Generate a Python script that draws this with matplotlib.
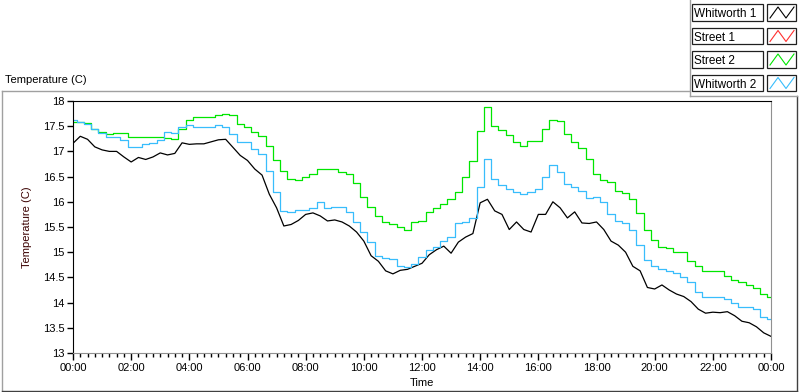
import matplotlib.pyplot as plt
import numpy as np
from matplotlib.patches import Rectangle

plt.rcParams['font.family'] = ['Liberation Sans', 'DejaVu Sans']

# readings every 15 minutes, 00:00 .. 24:00
whitworth1 = [17.16, 17.30, 17.24, 17.09, 17.03, 17.00, 17.00, 16.89, 16.79, 16.88, 16.84, 16.89, 16.97, 16.93, 16.96, 17.17,
              17.14, 17.15, 17.15, 17.19, 17.23, 17.24, 17.08, 16.92, 16.82, 16.65, 16.53, 16.15, 15.88, 15.52, 15.55, 15.63,
              15.75, 15.78, 15.72, 15.62, 15.64, 15.60, 15.52, 15.40, 15.22, 14.93, 14.82, 14.63, 14.57, 14.64, 14.66, 14.72,
              14.78, 14.95, 15.05, 15.12, 14.98, 15.20, 15.30, 15.37, 15.98, 16.05, 15.82, 15.75, 15.45, 15.60, 15.45, 15.40,
              15.75, 15.75, 16.00, 15.88, 15.68, 15.80, 15.58, 15.57, 15.60, 15.45, 15.22, 15.14, 15.00, 14.72, 14.63, 14.30,
              14.27, 14.35, 14.25, 14.17, 14.12, 14.02, 13.87, 13.79, 13.81, 13.80, 13.82, 13.74, 13.63, 13.60, 13.52, 13.40,
              13.33]
street1 = []
street2 = [17.58, 17.58, 17.56, 17.45, 17.38, 17.35, 17.37, 17.37, 17.28, 17.28, 17.28, 17.28, 17.28, 17.27, 17.25, 17.45,
           17.62, 17.68, 17.69, 17.69, 17.72, 17.74, 17.72, 17.54, 17.49, 17.39, 17.30, 17.10, 16.82, 16.62, 16.46, 16.43,
           16.50, 16.55, 16.66, 16.66, 16.66, 16.60, 16.56, 16.38, 16.10, 15.90, 15.72, 15.60, 15.55, 15.50, 15.45, 15.60,
           15.62, 15.80, 15.88, 15.95, 16.05, 16.20, 16.50, 16.80, 17.40, 17.88, 17.50, 17.42, 17.33, 17.18, 17.10, 17.20,
           17.20, 17.45, 17.62, 17.60, 17.35, 17.18, 17.06, 16.85, 16.55, 16.43, 16.40, 16.22, 16.18, 16.05, 15.78, 15.45,
           15.25, 15.10, 15.09, 15.00, 15.00, 14.82, 14.72, 14.63, 14.62, 14.62, 14.52, 14.45, 14.40, 14.35, 14.29, 14.18,
           14.11]
whitworth2 = [17.62, 17.58, 17.55, 17.45, 17.36, 17.28, 17.28, 17.22, 17.08, 17.08, 17.15, 17.17, 17.22, 17.38, 17.36, 17.48,
              17.52, 17.49, 17.49, 17.49, 17.52, 17.48, 17.35, 17.19, 17.18, 17.05, 16.95, 16.62, 16.20, 15.82, 15.80, 15.84,
              15.83, 15.87, 16.00, 15.88, 15.89, 15.89, 15.80, 15.60, 15.40, 15.20, 14.93, 14.88, 14.87, 14.72, 14.71, 14.77,
              14.90, 15.04, 15.10, 15.22, 15.30, 15.57, 15.60, 15.67, 16.30, 16.85, 16.45, 16.33, 16.25, 16.20, 16.15, 16.20,
              16.25, 16.50, 16.73, 16.60, 16.35, 16.30, 16.22, 16.07, 16.10, 16.00, 15.75, 15.62, 15.58, 15.45, 15.15, 14.85,
              14.72, 14.66, 14.63, 14.58, 14.50, 14.40, 14.22, 14.12, 14.11, 14.11, 14.08, 14.00, 13.92, 13.91, 13.88, 13.72,
              13.68]

names = ['Whitworth 1', 'Street 1', 'Street 2', 'Whitworth 2']
series = [whitworth1, street1, street2, whitworth2]
colors = ['#000000', '#ff3030', '#00e600', '#38bdfc']
steps = ['default', 'default', 'steps-mid', 'steps-mid']

x_ticks = list(range(0, 25, 2))
x_labels = ['00:00', '02:00', '04:00', '06:00', '08:00', '10:00', '12:00',
            '14:00', '16:00', '18:00', '20:00', '22:00', '00:00']
y_ticks = [13, 13.5, 14, 14.5, 15, 15.5, 16, 16.5, 17, 17.5, 18]

fig = plt.figure(figsize=(8, 3.92), dpi=100)

# background panel in pixel coords
ov = fig.add_axes([0, 0, 1, 1])
ov.set_xlim(0, 800)
ov.set_ylim(392, 0)
ov.axis('off')
ov.plot([2, 690], [91, 91], color='#a0a0a0', lw=1)
ov.plot([2, 2], [91, 392], color='#a0a0a0', lw=1)
ov.plot([797, 797], [96, 392], color='#404040', lw=1)
ov.plot([2, 797], [391, 391], color='#404040', lw=1)
ov.plot([690, 690], [0, 96], color='#a0a0a0', lw=1)
ov.plot([690, 797], [96, 96], color='#a0a0a0', lw=1)
ov.text(5, 83, 'Temperature (C)', fontsize=8, ha='left', va='baseline')

# legend
for i, (nm, c) in enumerate(zip(names, colors)):
    y0 = 4 + i * 23.5
    ov.add_patch(Rectangle((692, y0), 71, 16.5, fill=False, ec='#202020', lw=0.9))
    ov.add_patch(Rectangle((767, y0), 29, 16.5, fill=False, ec='#202020', lw=0.9))
    ov.text(694, y0 + 13, nm, fontsize=8.5, ha='left', va='baseline')
    ov.plot([770, 778, 786, 794], [y0 + 14, y0 + 3, y0 + 14, y0 + 3], color=c, lw=0.8)

ax = fig.add_axes([73 / 800, 1 - 353 / 392, 698 / 800, 252 / 392])
hours = np.arange(97) * 0.25
for vals, c, ds in zip(series, colors, steps):
    if len(vals):
        ax.plot(hours[:len(vals)], vals, color=c, lw=0.9, drawstyle=ds)

ax.set_xlim(0, 24)
ax.set_ylim(13, 18)
ax.set_xticks(x_ticks)
ax.set_xticklabels(x_labels)
ax.set_xticks(np.arange(0, 24.01, 0.25), minor=True)
ax.set_yticks(y_ticks)
ax.set_yticklabels(['%g' % v for v in y_ticks])
ax.tick_params(axis='x', which='major', length=5, width=1, labelsize=8, pad=2)
ax.tick_params(axis='x', which='minor', length=3, width=1)
ax.tick_params(axis='y', length=4, width=1, labelsize=8, pad=2)
for s in ['left', 'top']:
    ax.spines[s].set_color('black')
for s in ['right', 'bottom']:
    ax.spines[s].set_color('#909090')
ax.set_xlabel('Time', fontsize=8, labelpad=4)
ax.set_ylabel('Temperature (C)', fontsize=8, color='#3a0000', labelpad=8)

fig.savefig('out.png', dpi=100)
